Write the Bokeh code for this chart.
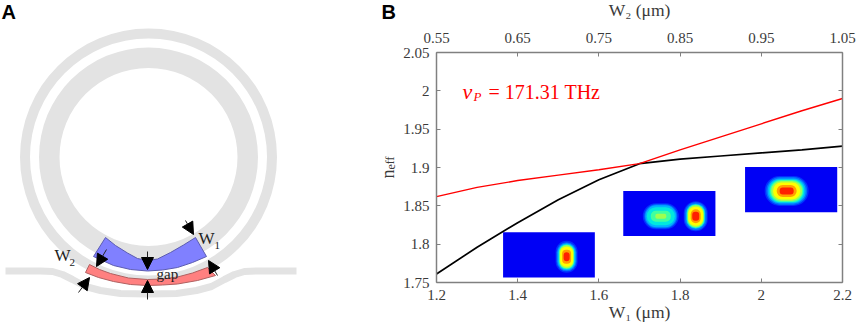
from bokeh.plotting import figure
from bokeh.layouts import row
from bokeh.models import LinearAxis, Range1d, FixedTicker, Label, Arrow, NormalHead
from bokeh.embed import file_html
from bokeh.resources import INLINE

# ---------- chart data ----------
w1 = [1.2, 1.3, 1.4, 1.5, 1.6, 1.7, 1.8, 1.9, 2.0, 2.1, 2.2]
n_red = [1.862, 1.874, 1.883, 1.890, 1.897, 1.905, 1.923, 1.94, 1.957, 1.974, 1.99]
n_black = [1.761, 1.796, 1.828, 1.858, 1.884, 1.905, 1.911, 1.915, 1.919, 1.923, 1.928]
w1_ticks = [1.2, 1.4, 1.6, 1.8, 2.0, 2.2]
w1_labels = ["1.2", "1.4", "1.6", "1.8", "2", "2.2"]
w2_ticks = [0.55, 0.65, 0.75, 0.85, 0.95, 1.05]
w2_labels = ["0.55", "0.65", "0.75", "0.85", "0.95", "1.05"]
n_ticks = [1.75, 1.8, 1.85, 1.9, 1.95, 2.0, 2.05]
n_labels = ["1.75", "1.8", "1.85", "1.9", "1.95", "2", "2.05"]

# inset mode images: extents in chart units
inset_left = [1.364, 1.66, 1.96]
inset_right = [1.59, 1.887, 2.187]
inset_bottom = [1.7565, 1.8105, 1.8415]
inset_top = [1.8155, 1.8695, 1.9005]
# hot spots: centre, and (width, height) shells in pixels, outermost first
jet = ["#0030ff", "#0070ff", "#00b0ff", "#00e8e0", "#40ffa0", "#a0ff50", "#ffff00", "#ffa000", "#ff2000"]
spots = [
    (1.5205, 1.7835, [(22, 32), (20, 29), (18, 27), (16, 25), (15, 24), (14, 23), (13, 20), (9, 14), (6, 9)]),
    (1.7525, 1.8365, [(36, 26), (33, 24), (31, 22), (28, 18), (20, 11), (11, 5)]),
    (1.8385, 1.8365, [(24, 30), (22, 28), (19, 25), (18, 24), (17, 23), (16, 22), (15, 19), (10, 14), (7, 9)]),
    (2.0625, 1.8695, [(44, 30), (41, 28), (38, 25), (35, 23), (33, 22), (31, 20), (27, 17), (20, 12), (14, 7)]),
]

# ---------- schematic (page pixels) ----------
ring_x, ring_y = 148, 156.5
ring_inner = [118.5, 89]
ring_outer = [128.5, 109.5]
bus_x = [5, 40, 52, 62, 72, 85, 100, 120, 148, 176, 196, 211, 224, 234, 244, 256, 296]
bus_y = [270.5, 270.5, 271, 274, 279, 286, 290, 293, 293.5, 293, 290, 286, 279, 274, 271, 270.5, 270.5]
blue_x = [105, 115, 127, 137, 147, 157, 170, 183, 195, 206, 192, 177, 162, 147, 130, 113, 93]
blue_y = [237, 245, 252.5, 258, 260, 258.5, 252, 244.5, 237, 256, 262, 267, 269.5, 270.5, 269, 265, 256]
red_x = [89, 99, 110, 128, 147, 162, 177, 192, 207, 215, 197, 177, 162, 147, 130, 113, 98, 85]
red_y = [264, 269, 273, 277.5, 279, 278.5, 276.5, 272.5, 267, 275, 280, 283.5, 284.5, 285, 284, 281, 277, 272]
arrows = [
    (185, 220, 193, 234), (147, 251, 147, 269), (147, 299, 147, 280),
    (78, 292, 89, 277), (106, 249, 96, 266), (217, 275, 208, 260),
]

GREY = "#e3e3e3"
SERIF = "Liberation Serif"
TXT = "#3a3a3a"
LEFT_W = 400
TOP_PAD = 8

# ---------- left panel ----------
a = figure(width=LEFT_W, height=330, x_range=(0, LEFT_W), y_range=(330, 0),
           output_backend="svg", toolbar_location=None, min_border=0)
a.frame_align = False
a.axis.visible = False
a.grid.visible = False
a.outline_line_color = None
a.annulus([ring_x] * 2, [ring_y] * 2, inner_radius=ring_inner, outer_radius=ring_outer,
          fill_color=GREY, line_color=None)
a.line(bus_x, bus_y, line_color=GREY, line_width=7)
a.patch(blue_x, blue_y, fill_color="#8080ff", line_color="#5c5cb0", line_width=1)
a.patch(red_x, red_y, fill_color="#ff8080", line_color="#b06060", line_width=1)
for x0, y0, x1, y1 in arrows:
    a.add_layout(Arrow(x_start=x0, y_start=y0, x_end=x1, y_end=y1, line_color="#222222", line_width=1,
                       end=NormalHead(size=12, fill_color="black", line_color="black")))


def atext(fig, x, y, s, size, font=SERIF, color="#222222", style="normal", angle=0):
    fig.add_layout(Label(x=x, y=y, text=s, text_font=font, text_font_size=f"{size}px", text_color=color,
                         text_font_style=style, text_baseline="middle", text_align="left", angle=angle))


atext(a, 1, 11, "A", 20, "Liberation Sans", "black", "bold")
atext(a, 381, 11, "B", 20, "Liberation Sans", "black", "bold")
atext(a, 198, 238, "W", 17)
atext(a, 214, 245, "1", 11)
atext(a, 54, 255, "W", 17)
atext(a, 69, 262, "2", 11)
atext(a, 156, 273, "gap", 15)
atext(a, 387, 178, "n", 18, color=TXT, angle=1.5708)
atext(a, 390, 169, "eff", 12, color=TXT, angle=1.5708)

# ---------- right panel ----------
FX0, FX1, FY0, FY1 = 436, 842, 51.7, 282
p = figure(width=858 - LEFT_W, height=330 + TOP_PAD, x_range=(1.2, 2.2), y_range=(1.75, 2.05),
           output_backend="svg", toolbar_location=None,
           min_border_left=FX0 - LEFT_W, min_border_right=16, min_border_top=52 + TOP_PAD, min_border_bottom=48,
           margin=(-TOP_PAD, 0, 0, 0))
p.frame_align = False
p.grid.visible = False
p.outline_line_color = None
p.extra_x_ranges["w2"] = Range1d(0.55, 1.05)
bottom = p.below[0]
left = p.left[0]
top = LinearAxis(x_range_name="w2")
right = LinearAxis()
p.add_layout(top, "above")
p.add_layout(right, "right")


def style(ax, ticks, labels):
    ax.ticker = FixedTicker(ticks=ticks)
    ax.major_label_overrides = dict(zip(ticks, labels))
    ax.axis_line_color = "#808080"
    ax.axis_line_width = 1.5
    ax.major_tick_line_color = "#808080"
    ax.major_tick_in = 4
    ax.major_tick_out = 0
    ax.minor_tick_in = 0
    ax.minor_tick_out = 0
    ax.major_label_text_font = SERIF
    ax.major_label_text_font_size = "15px"
    ax.major_label_text_color = TXT
    ax.major_label_standoff = 7
    ax.axis_label_text_font = SERIF
    ax.axis_label_text_font_style = "normal"
    ax.axis_label_text_font_size = "17.5px"
    ax.axis_label_text_color = TXT


style(bottom, w1_ticks, w1_labels)
style(left, n_ticks, n_labels)
style(top, w2_ticks, w2_labels)
style(right, n_ticks, [""] * len(n_ticks))
top.major_label_standoff = 10
right.major_label_standoff = 0
bottom.axis_label = "W₁ (μm)"
bottom.axis_label_standoff = -1
top.axis_label = "W₂ (μm)"
top.axis_label_standoff = 10

p.quad(left=inset_left, right=inset_right, bottom=inset_bottom, top=inset_top,
       fill_color="#0000f5", line_color=None)
for cx, cy, shells in spots:
    for (w, h), col in zip(shells, jet):
        p.rect([cx], [cy], width=w, height=h, width_units="screen", height_units="screen",
               fill_color=col, line_color=None, border_radius=int(min(w, h) * 0.5))

p.line(w1, n_black, line_color="black", line_width=1.7)
p.line(w1, n_red, line_color="#ff0000", line_width=1.4)


def dx(px):
    return 1.2 + (px - FX0) / (FX1 - FX0)


def dy(py):
    return 2.05 - (py - FY0) / (FY1 - FY0) * 0.3


atext(p, dx(462), dy(91), "v", 22, color="#ff0000", style="italic")
atext(p, dx(473), dy(96), "P", 13, color="#ff0000", style="italic")
atext(p, dx(488), dy(91), "= 171.31 THz", 20, color="#ff0000")

page = row(a, p, spacing=0)
open("out.html", "w").write(file_html(page, INLINE))
